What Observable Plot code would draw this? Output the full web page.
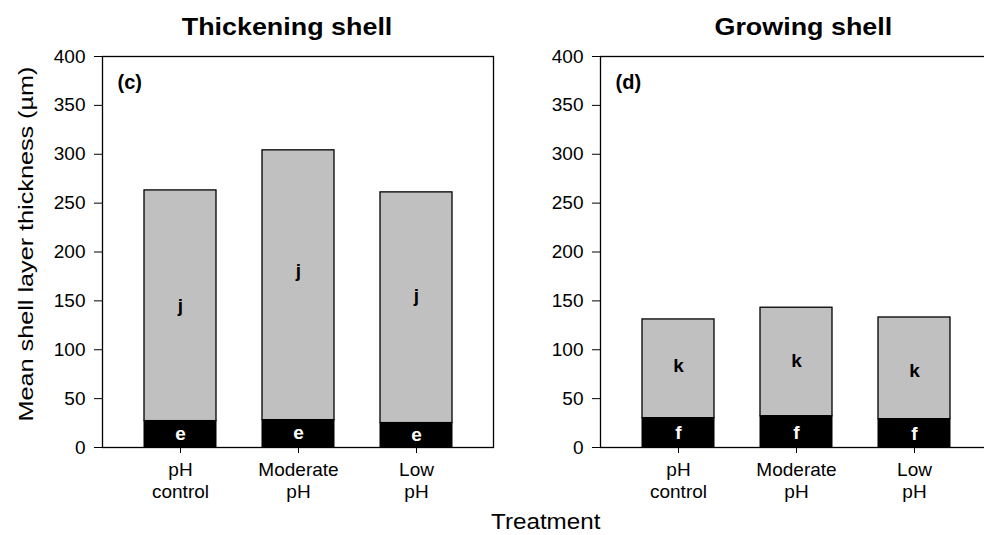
<!DOCTYPE html>
<html>
<head>
<meta charset="utf-8">
<script src="https://cdn.jsdelivr.net/npm/d3@7"></script>
<script src="https://cdn.jsdelivr.net/npm/@observablehq/plot@0.6"></script>
<style>
  html, body { margin: 0; padding: 0; background: #fff; }
  #wrap { position: relative; width: 984px; height: 535px; overflow: hidden; background: #fff; font-family: "Liberation Sans", Arial, sans-serif; color: #000; }
  .panel { position: absolute; top: 0; }
  .title { position: absolute; font-weight: bold; font-size: 24px; white-space: nowrap; transform-origin: center; }
  .ylab { position: absolute; font-size: 21px; white-space: nowrap; }
  .xlab { position: absolute; font-size: 22px; white-space: nowrap; }
</style>
</head>
<body>
<div id="wrap"></div>
<script>
// ---- data ----
const treatments = ["pH\ncontrol", "Moderate\npH", "Low\npH"];
const yTicks = [0, 50, 100, 150, 200, 250, 300, 350, 400];

// Thickening shell (c)
const thickTotal = [263, 304, 261];
const thickInner = [27, 28, 25];
const thickTopLetters = ["j", "j", "j"];
const thickTopLetterY = [145, 181, 155];
const thickInnerLetters = ["e", "e", "e"];
const thickInnerLetterY = [14, 15, 13];

// Growing shell (d)
const growTotal = [131, 143, 133];
const growInner = [30, 32, 29];
const growTopLetters = ["k", "k", "k"];
const growTopLetterY = [83, 89, 78];
const growInnerLetters = ["f", "f", "f"];
const growInnerLetterY = [15, 15, 14];

function rows(total, inner, tl, ty, il, iy) {
  return treatments.map((t, i) => ({
    t, total: total[i], inner: inner[i],
    topL: tl[i], topY: ty[i], inL: il[i], inY: iy[i]
  }));
}

function panel(data, tag, marginLeft, marginRight) {
  return Plot.plot({
    width: 500,
    height: 535,
    marginLeft,
    marginRight,
    marginTop: 56,
    marginBottom: 88,
    style: { fontFamily: "Liberation Sans, Arial, sans-serif", color: "#000", background: "transparent", overflow: "visible" },
    x: { domain: treatments, paddingInner: 0.392, paddingOuter: 0.35, label: null },
    y: { domain: [0, 400], label: null },
    marks: [
      Plot.barY(data, { x: "t", y1: "inner", y2: "total", fill: "#c0c0c0", stroke: "#000", strokeWidth: 1.3 }),
      Plot.barY(data, { x: "t", y1: 0, y2: "inner", fill: "#000", stroke: "#000", strokeWidth: 1 }),
      Plot.text(data, { x: "t", y: "topY", text: "topL", fontSize: 19, fontWeight: "bold", fill: "#000" }),
      Plot.text(data, { x: "t", y: "inY", text: "inL", fontSize: 19, fontWeight: "bold", fill: "#fff" }),
      Plot.frame({ stroke: "#000", strokeWidth: 1.3 }),
      Plot.ruleX([0], { frameAnchor: "left", stroke: "#808080", strokeWidth: 2 }),
      Plot.axisY({ ticks: yTicks, tickSize: 8, tickPadding: 9, fontSize: 19, label: null, tickFormat: d => String(d) }),
      Plot.axisX({ tickSize: 6, tickPadding: 7, fontSize: 19, lineHeight: 1.15, label: null }),
      Plot.text([tag], { frameAnchor: "top-left", dx: 15, dy: 18, text: d => d, fontSize: 20, fontWeight: "bold", fill: "#000" })
    ]
  });
}

const wrap = document.getElementById("wrap");

const left = panel(rows(thickTotal, thickInner, thickTopLetters, thickTopLetterY, thickInnerLetters, thickInnerLetterY), "(c)", 102, 7);
left.classList.add("panel");
left.style.left = "0px";
wrap.appendChild(left);

const right = panel(rows(growTotal, growInner, growTopLetters, growTopLetterY, growInnerLetters, growInnerLetterY), "(d)", 100, 8);
right.classList.add("panel");
right.style.left = "500px";
wrap.appendChild(right);

function addDiv(cls, text) {
  const d = document.createElement("div");
  d.className = cls;
  d.textContent = text;
  wrap.appendChild(d);
  return d;
}

const t1 = addDiv("title", "Thickening shell");
const t2 = addDiv("title", "Growing shell");
const yl = addDiv("ylab", "Mean shell layer thickness (µm)");
const xl = addDiv("xlab", "Treatment");

function place(el, cx, cy, sx, rot) {
  const w = el.offsetWidth, h = el.offsetHeight;
  el.style.left = (cx - w / 2) + "px";
  el.style.top = (cy - h / 2) + "px";
  el.style.transform = (rot ? "rotate(" + rot + "deg) " : "") + "scaleX(" + sx + ")";
}
place(t1, 287, 27, 1.12, 0);
place(t2, 803, 27, 1.12, 0);
place(yl, 26, 244, 1.2, -90);
place(xl, 545, 522, 1.1, 0);
</script>
</body>
</html>
